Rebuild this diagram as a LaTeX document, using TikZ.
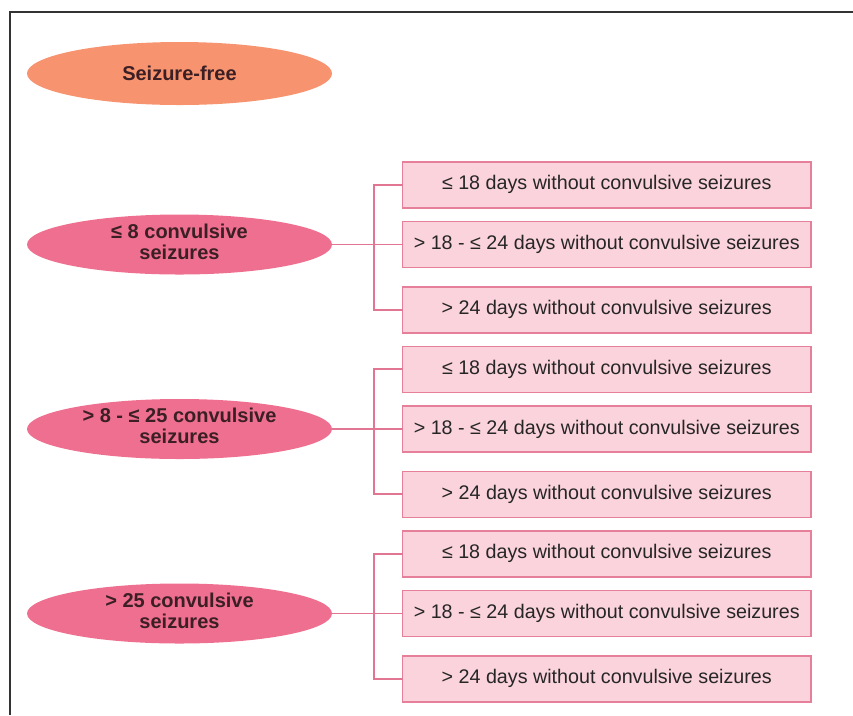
\documentclass[tikz,border=0pt]{standalone}
\usepackage{fontspec}
\setmainfont{Liberation Sans}
\usetikzlibrary{matrix,shapes.geometric}

\definecolor{salmon}{HTML}{F7946F}
\definecolor{rose}{HTML}{EE6F8F}
\definecolor{blush}{HTML}{FBD3DC}
\definecolor{rim}{HTML}{E57F9A}
\definecolor{wire}{HTML}{E27592}
\definecolor{ink}{HTML}{3B1F24}

\newcommand{\twolines}[2]{\begin{tabular}{@{}c@{}}#1\\#2\end{tabular}}

\begin{document}
\begin{tikzpicture}[x=1pt,y=-1pt,
  band/.style={ellipse,fill=rose,minimum width=305pt,minimum height=60pt,inner sep=0pt,
    text=ink,font=\fontsize{20}{20.5}\selectfont\bfseries},
  free/.style={band,fill=salmon,minimum height=63pt},
  outcome/.style={rectangle,draw=rim,line width=1.5pt,fill=blush,minimum width=408pt,
    minimum height=46pt,inner sep=0pt,text=black!85,font=\fontsize{19.7}{22}\selectfont},
  link/.style={draw=wire,line width=1.6pt}]
  \useasboundingbox (0,0) rectangle (853,715);
  \draw [black!80,line width=2.5pt] (10,715) -- (10,12) -- (853,12);
  \matrix (m) [matrix of nodes,anchor=north west,inner sep=0pt,outer sep=0pt,
    column sep=70pt,row sep=6pt,nodes={anchor=center},
    column 1/.style={nodes=band},column 2/.style={nodes=outcome}] at (27,42)
  {
    |[free]| Seizure-free & \\[50pt]
     & ≤ 18 days without convulsive seizures \\
    \twolines{≤ 8 convulsive}{seizures} & > 18 - ≤ 24 days without convulsive seizures \\[5.5pt]
     & > 24 days without convulsive seizures \\[6pt]
     & ≤ 18 days without convulsive seizures \\
    \twolines{> 8 - ≤ 25 convulsive}{seizures} & > 18 - ≤ 24 days without convulsive seizures \\[5.5pt]
     & > 24 days without convulsive seizures \\[6pt]
     & ≤ 18 days without convulsive seizures \\
    \twolines{> 25 convulsive}{seizures} & > 18 - ≤ 24 days without convulsive seizures \\[5.5pt]
     & > 24 days without convulsive seizures \\
  };
  \path
    (m-3-1) edge [link] (m-3-2)
    (m-6-1) edge [link] (m-6-2)
    (m-9-1) edge [link] (m-9-2);
  \draw [link] (m-2-2.west) -- ++(-29,0) |- (m-4-2.west);
  \draw [link] (m-5-2.west) -- ++(-29,0) |- (m-7-2.west);
  \draw [link] (m-8-2.west) -- ++(-29,0) |- (m-10-2.west);
\end{tikzpicture}
\end{document}
